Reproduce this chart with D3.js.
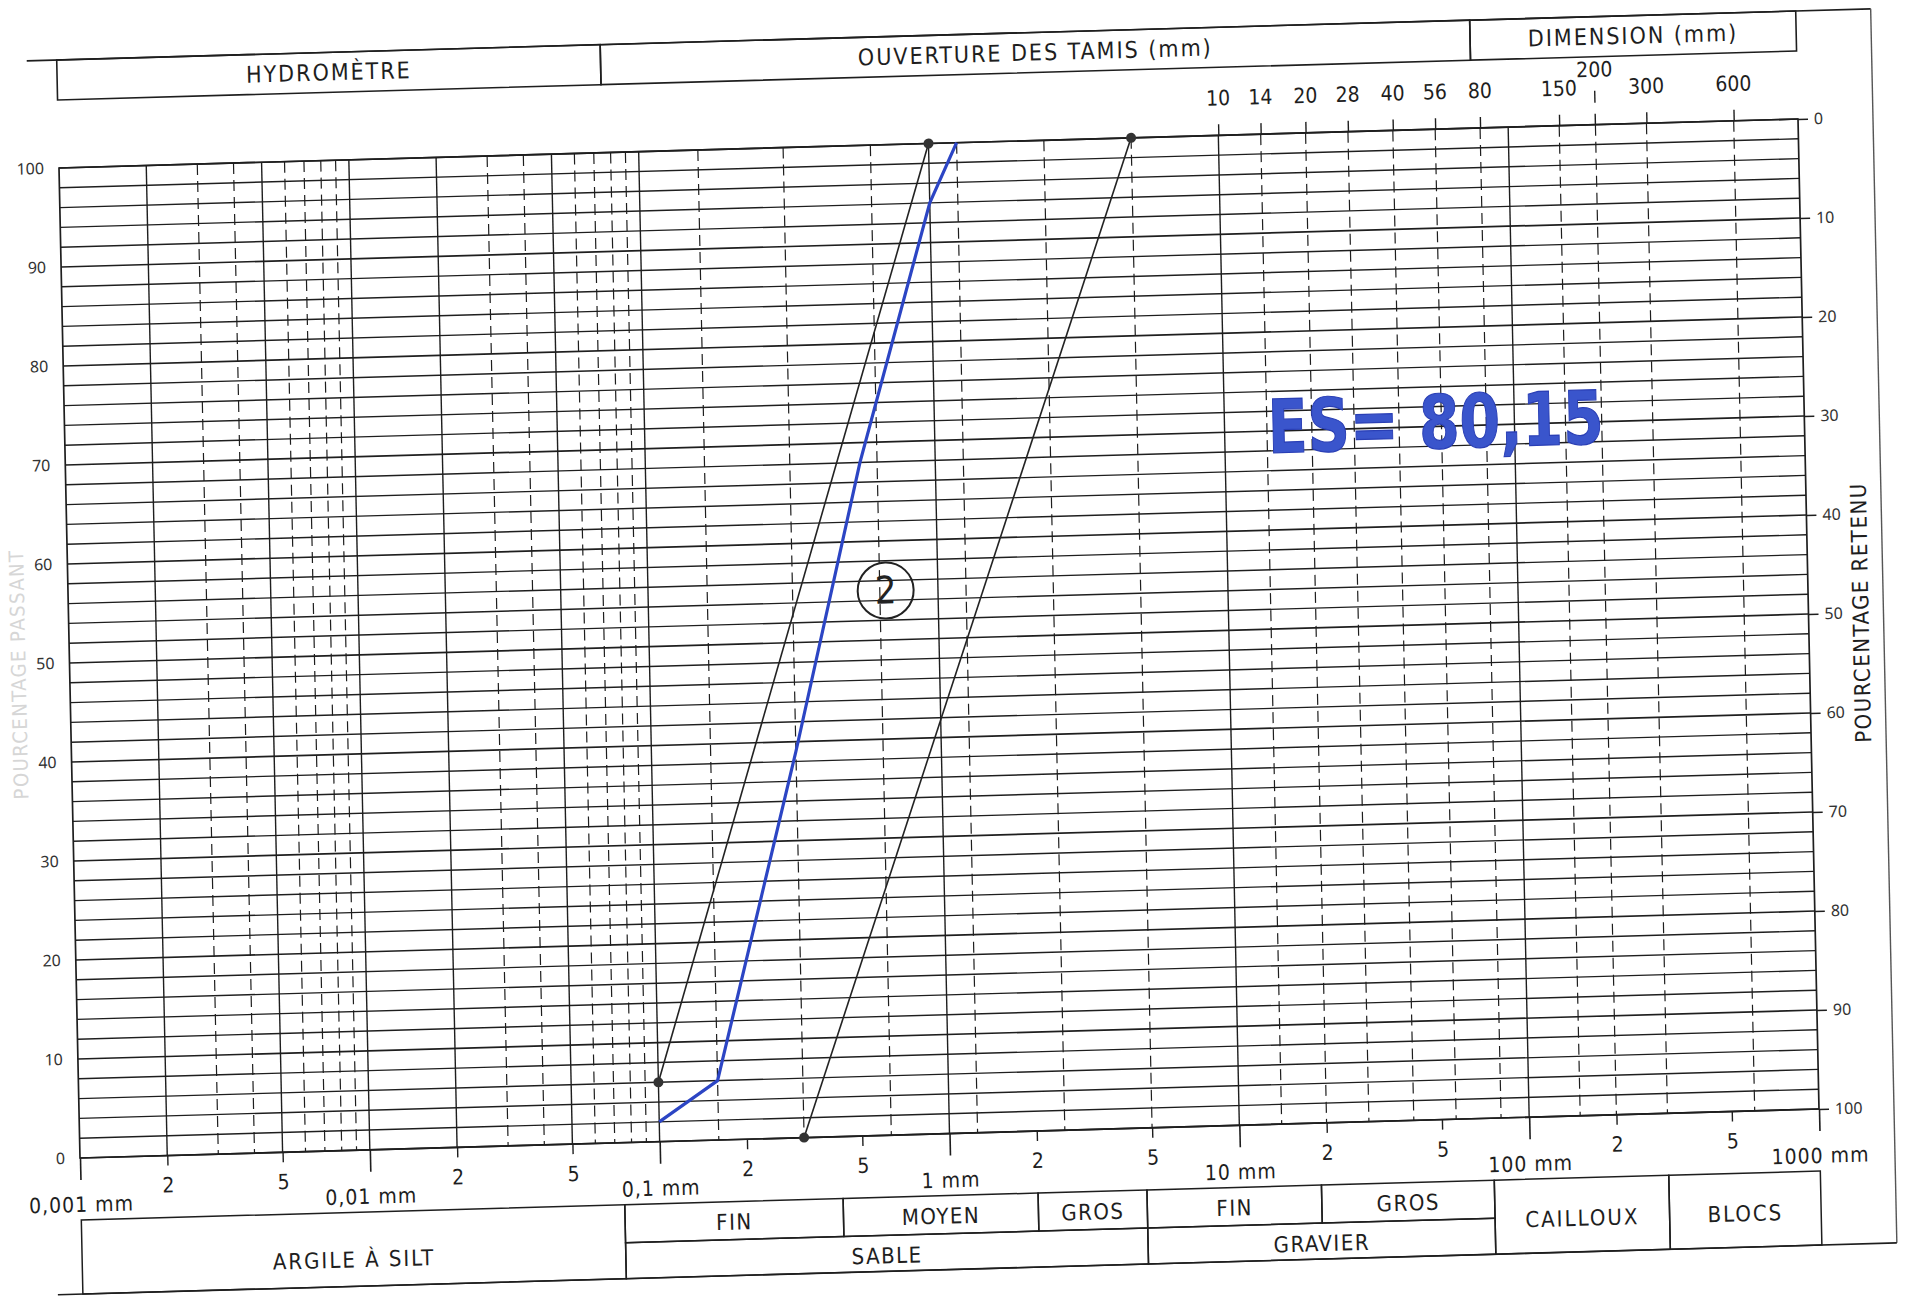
<!DOCTYPE html>
<html>
<head>
<meta charset="utf-8">
<script src="https://cdn.jsdelivr.net/npm/d3@7"></script>
<style>
  body { margin: 0; background: #fff; }
  svg { display: block; }
</style>
</head>
<body>
<svg id="chart" width="1905" height="1297"></svg>
<script>
// ---------------- DATA ----------------
const passTicks = [0, 10, 20, 30, 40, 50, 60, 70, 80, 90, 100];
const retainedTicks = [0, 10, 20, 30, 40, 50, 60, 70, 80, 90, 100];
const decadeValues = [0.001, 0.01, 0.1, 1, 10, 100, 1000];
const decadeLabels = ["0,001 mm", "0,01 mm", "0,1 mm", "1 mm", "10 mm", "100 mm", "1000 mm"];
const minorTickValues = [0.002, 0.005, 0.02, 0.05, 0.2, 0.5, 2, 5, 20, 50, 200, 500];
const minorTickLabels = ["2", "5", "2", "5", "2", "5", "2", "5", "2", "5", "2", "5"];
const topSieveValues = [10, 14, 20, 28, 40, 56, 80, 150, 300, 600];
const topSieveLabels = ["10", "14", "20", "28", "40", "56", "80", "150", "300", "600"];
const raisedSieveValue = 200;
const raisedSieveLabel = "200";
const hydroDecades = [0.001, 0.01];
const hydroMultiples = [2, 3, 4, 5, 6, 7, 8, 9];
const hydroSolidMultiples = [2, 5];
const solidDecades = [0.01, 0.1, 1, 10, 100];
const sieveLines = [0.16, 0.315, 0.63, 1.25, 2.5, 5, 14, 20, 28, 40, 56, 80, 150, 200, 300, 600];

const headerLabels = ["HYDROMÈTRE", "OUVERTURE DES TAMIS (mm)", "DIMENSION (mm)"];
const headerBounds = [0.001, 0.075, 75, 1000];
const row1Labels = ["FIN", "MOYEN", "GROS", "FIN", "GROS"];
const row1Bounds = [0.075, 0.425, 2, 4.75, 19, 75];
const row2Labels = ["SABLE", "GRAVIER"];
const row2Bounds = [0.075, 4.75, 75];
const tallLabels = ["ARGILE À SILT", "CAILLOUX", "BLOCS"];
const tallFrom = [0.001, 75, 300];
const tallTo = [0.075, 300, 1000];

// curves (size mm, % passing)
const sampleSizes = [0.1, 0.16, 0.315, 0.55, 1.0, 1.25];
const samplePassing = [2, 6, 39, 68, 94, 100];
const fineLimitSizes = [0.1, 1.0];
const fineLimitPassing = [6, 100];
const coarseLimitSizes = [0.315, 5];
const coarseLimitPassing = [0, 100];

const curveLabel = "2";
const curveLabelSize = 0.66, curveLabelPass = 55;
const noteText = "ES= 80,15";
const noteSize = 53.5, notePass = 67.8;

// ---------------- LAYOUT ----------------
const W = 1740, H = 990;
const x = d3.scaleLog().domain([0.001, 1000]).range([0, W]);
const y = d3.scaleLinear().domain([0, 100]).range([H, 0]);
const yR = d3.scaleLinear().domain([0, 100]).range([0, H]);

const txtFont = '"Liberation Sans Narrow","DejaVu Sans Condensed","Roboto",sans-serif';
const numFont = '"Noto Sans","DejaVu Sans",sans-serif';
const ink = "#1e1e1e";

const svg = d3.select("#chart");
svg.append("rect").attr("width", 1905).attr("height", 1297).attr("fill", "#fff");

const g = svg.append("g")
  .attr("transform", `matrix(${1739/1740},${-49/1740},${21/990},1,59,168)`);

// horizontal grid (every 2 %)
const gridPass = d3.range(0, 101, 2);
g.append("g").selectAll("line").data(gridPass).join("line")
  .attr("x1", 0).attr("x2", W)
  .attr("y1", d => y(d)).attr("y2", d => y(d))
  .attr("stroke", ink).attr("stroke-width", d => d % 10 === 0 ? 1.7 : 1.4);

// vertical grid
const vlines = [];
hydroDecades.forEach(dec => hydroMultiples.forEach(m => {
  vlines.push({ v: dec * m, solid: hydroSolidMultiples.includes(m) });
}));
solidDecades.forEach(v => vlines.push({ v, solid: true }));
sieveLines.forEach(v => vlines.push({ v, solid: false }));

g.append("g").selectAll("line").data(vlines).join("line")
  .attr("x1", d => x(d.v)).attr("x2", d => x(d.v))
  .attr("y1", 0).attr("y2", H)
  .attr("stroke", ink)
  .attr("stroke-width", d => d.solid ? 1.4 : 1.2)
  .attr("stroke-dasharray", d => d.solid ? null : "11,6");

// frame of plot
g.append("rect").attr("x", 0).attr("y", 0).attr("width", W).attr("height", H)
  .attr("fill", "none").attr("stroke", ink).attr("stroke-width", 1.7);

// left axis (passing)
const leftAx = g.append("g").call(d3.axisLeft(y).tickValues(passTicks).tickSize(0).tickPadding(15));
leftAx.select(".domain").remove();
leftAx.selectAll("text").attr("font-family", numFont).attr("font-size", 16).attr("fill", "#333");

// right axis (retained)
const rightAx = g.append("g").attr("transform", `translate(${W},0)`)
  .call(d3.axisRight(yR).tickValues(retainedTicks).tickSize(10).tickPadding(6));
rightAx.select(".domain").remove();
rightAx.selectAll("line").attr("stroke", ink).attr("stroke-width", 1.4);
rightAx.selectAll("text").attr("font-family", numFont).attr("font-size", 16).attr("fill", "#333");

// bottom axis: minor 2 / 5
const botMinor = g.append("g").attr("transform", `translate(0,${H})`)
  .call(d3.axisBottom(x).tickValues(minorTickValues).tickSize(10).tickPadding(12)
    .tickFormat((d, i) => minorTickLabels[i]));
botMinor.select(".domain").remove();
botMinor.selectAll("line").attr("stroke", ink).attr("stroke-width", 1.4);
botMinor.selectAll("text").attr("font-family", txtFont).attr("font-size", 21).attr("fill", ink);

// bottom axis: decades
const botMajor = g.append("g").attr("transform", `translate(0,${H})`)
  .call(d3.axisBottom(x).tickValues(decadeValues).tickSize(22).tickPadding(17)
    .tickFormat((d, i) => decadeLabels[i]));
botMajor.select(".domain").remove();
botMajor.selectAll("line").attr("stroke", ink).attr("stroke-width", 1.6);
botMajor.selectAll("text").attr("font-family", txtFont).attr("font-size", 21).attr("fill", ink)
  .attr("letter-spacing", 1);

// top axis: sieve sizes
const topAx = g.append("g")
  .call(d3.axisTop(x).tickValues(topSieveValues).tickSize(11).tickPadding(19)
    .tickFormat((d, i) => topSieveLabels[i]));
topAx.select(".domain").remove();
topAx.selectAll("line").attr("stroke", ink).attr("stroke-width", 1.4);
topAx.selectAll("text").attr("font-family", txtFont).attr("font-size", 21).attr("fill", ink);
// raised label 200
g.append("line").attr("x1", x(raisedSieveValue)).attr("x2", x(raisedSieveValue))
  .attr("y1", -11).attr("y2", 0).attr("stroke", ink).attr("stroke-width", 1.4);
g.append("line").attr("x1", x(raisedSieveValue)).attr("x2", x(raisedSieveValue))
  .attr("y1", -34).attr("y2", -22).attr("stroke", ink).attr("stroke-width", 1.4);
g.append("text").attr("x", x(raisedSieveValue)).attr("y", -48)
  .attr("text-anchor", "middle").attr("font-family", txtFont).attr("font-size", 21)
  .attr("fill", ink).text(raisedSieveLabel);

// header boxes
const hTop = -108, hBot = -68;
headerLabels.forEach((lab, i) => {
  const x0 = x(headerBounds[i]), x1 = x(headerBounds[i + 1]);
  g.append("rect").attr("x", x0).attr("y", hTop).attr("width", x1 - x0).attr("height", hBot - hTop)
    .attr("fill", "none").attr("stroke", ink).attr("stroke-width", 1.6);
  g.append("text").attr("x", (x0 + x1) / 2).attr("y", -80)
    .attr("text-anchor", "middle").attr("font-family", txtFont).attr("font-size", 23)
    .attr("fill", ink).attr("letter-spacing", 2).text(lab);
});

// outer page frame
g.append("line").attr("x1", -30).attr("x2", W + 75).attr("y1", hTop).attr("y2", hTop)
  .attr("stroke", ink).attr("stroke-width", 1.6);
g.append("line").attr("x1", W + 75).attr("x2", W + 75).attr("y1", hTop).attr("y2", H + 136)
  .attr("stroke", "#555").attr("stroke-width", 1.4);
g.append("line").attr("x1", -25).attr("x2", W + 75).attr("y1", H + 136).attr("y2", H + 136)
  .attr("stroke", ink).attr("stroke-width", 1.6);

// bottom classification boxes
const r1Top = H + 62, r1Bot = H + 100, r2Bot = H + 136;
row1Labels.forEach((lab, i) => {
  const x0 = x(row1Bounds[i]), x1 = x(row1Bounds[i + 1]);
  g.append("rect").attr("x", x0).attr("y", r1Top).attr("width", x1 - x0).attr("height", r1Bot - r1Top)
    .attr("fill", "none").attr("stroke", ink).attr("stroke-width", 1.5);
  g.append("text").attr("x", (x0 + x1) / 2).attr("y", r1Top + 28)
    .attr("text-anchor", "middle").attr("font-family", txtFont).attr("font-size", 22)
    .attr("fill", ink).attr("letter-spacing", 1.5).text(lab);
});
row2Labels.forEach((lab, i) => {
  const x0 = x(row2Bounds[i]), x1 = x(row2Bounds[i + 1]);
  g.append("rect").attr("x", x0).attr("y", r1Bot).attr("width", x1 - x0).attr("height", r2Bot - r1Bot)
    .attr("fill", "none").attr("stroke", ink).attr("stroke-width", 1.5);
  g.append("text").attr("x", (x0 + x1) / 2).attr("y", r1Bot + 28)
    .attr("text-anchor", "middle").attr("font-family", txtFont).attr("font-size", 22)
    .attr("fill", ink).attr("letter-spacing", 1.5).text(lab);
});
tallLabels.forEach((lab, i) => {
  const x0 = x(tallFrom[i]), x1 = x(tallTo[i]);
  g.append("rect").attr("x", x0).attr("y", r1Top).attr("width", x1 - x0).attr("height", r2Bot - r1Top)
    .attr("fill", "none").attr("stroke", ink).attr("stroke-width", 1.5);
  g.append("text").attr("x", (x0 + x1) / 2).attr("y", i === 0 ? r1Top + 55 : r1Top + 48)
    .attr("text-anchor", "middle").attr("font-family", txtFont).attr("font-size", 22)
    .attr("fill", ink).attr("letter-spacing", 2).text(lab);
});

// side titles
g.append("text").attr("transform", `translate(${W + 60},${H / 2}) rotate(-90)`)
  .attr("text-anchor", "middle").attr("font-family", txtFont).attr("font-size", 22)
  .attr("fill", ink).attr("letter-spacing", 1.5).text("POURCENTAGE RETENU");
g.append("text").attr("transform", `translate(${-44},${H / 2 + 10}) rotate(-90)`)
  .attr("text-anchor", "middle").attr("font-family", txtFont).attr("font-size", 20)
  .attr("fill", "#d6d6d6").attr("letter-spacing", 1.5).text("POURCENTAGE PASSANT");

// curves
const line = d3.line().x(d => x(d[0])).y(d => y(d[1]));
const fineLimit = fineLimitSizes.map((s, i) => [s, fineLimitPassing[i]]);
const coarseLimit = coarseLimitSizes.map((s, i) => [s, coarseLimitPassing[i]]);
const sample = sampleSizes.map((s, i) => [s, samplePassing[i]]);

[fineLimit, coarseLimit].forEach(pts => {
  g.append("path").attr("d", line(pts)).attr("fill", "none")
    .attr("stroke", "#222").attr("stroke-width", 1.6);
  g.selectAll(null).data(pts).join("circle")
    .attr("cx", d => x(d[0])).attr("cy", d => y(d[1])).attr("r", 5)
    .attr("fill", "#333");
});
g.append("path").attr("d", line(sample)).attr("fill", "none")
  .attr("stroke", "#2c45c4").attr("stroke-width", 3.2).attr("stroke-linejoin", "round");

// circled label
g.append("circle").attr("cx", x(curveLabelSize)).attr("cy", y(curveLabelPass)).attr("r", 28)
  .attr("fill", "none").attr("stroke", "#222").attr("stroke-width", 2);
g.append("text").attr("x", x(curveLabelSize)).attr("y", y(curveLabelPass) + 13)
  .attr("text-anchor", "middle").attr("font-family", txtFont).attr("font-size", 38)
  .attr("fill", "#222").text(curveLabel);

// handwritten note
g.append("text").attr("x", x(noteSize)).attr("y", y(notePass))
  .attr("text-anchor", "middle").attr("font-family", '"DejaVu Sans",sans-serif')
  .attr("font-weight", "bold").attr("font-size", 74)
  .attr("textLength", 336).attr("lengthAdjust", "spacingAndGlyphs")
  .attr("fill", "#3a55cc").attr("stroke", "#2a3fb5").attr("stroke-width", 1.2)
  .text(noteText);
</script>
</body>
</html>
